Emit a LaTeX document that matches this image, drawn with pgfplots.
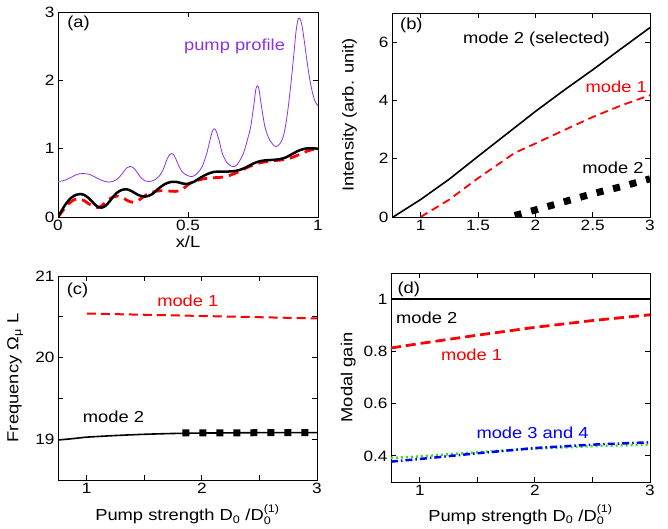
\documentclass[border=0pt]{standalone}
\usepackage{fontspec}
\setmainfont[FakeStretch=1.15]{Liberation Sans}
\usepackage{pgfplots}
\pgfplotsset{compat=1.18}

\definecolor{pumpc}{RGB}{140,50,230}
\definecolor{greenc}{RGB}{60,220,40}

\newcommand{\tk}{\fontsize{15}{15}\selectfont}
\newcommand{\lb}{\fontsize{16}{16}\selectfont}
\newcommand{\sm}{\fontsize{11}{11}\selectfont}

\pgfplotsset{
  panel/.style={
    scale only axis, anchor=south west,
    tick align=inside, major tick length=5bp,
    axis line style={line width=0.8bp},
    every tick/.style={line width=0.8bp, black},
    tick label style={font=\tk},
    /pgf/number format/assume math mode=true,
    every axis y label/.style={at={(axis description cs:-0.165,0.5)}, rotate=90, anchor=center, font=\lb},
  },
  xlab/.style={every axis x label/.style={at={(axis description cs:0.5,#1)}, anchor=base, font=\lb}},
  thickdash/.style={black, line width=7bp, dash pattern=on 7bp off 10bp},
}

\begin{document}
\begin{tikzpicture}
\useasboundingbox (0,0) rectangle (668bp,529bp);

% (a)
\begin{axis}[panel, at={(58bp,312bp)}, width=260bp, height=205bp,
  xmin=0, xmax=1, ymin=0, ymax=3,
  xtick={0,0.5,1}, ytick={0,1,2,3},
  xlabel={x/L}, xlab=-0.151]
\addplot[pumpc, line width=0.8bp, smooth] coordinates {
(0,0.52)(0.02,0.53)(0.04,0.56)(0.06,0.6)(0.08,0.63)(0.1,0.635)(0.12,0.625)(0.14,0.59)
(0.16,0.55)(0.18,0.52)(0.195,0.51)(0.21,0.52)(0.23,0.56)(0.25,0.65)(0.265,0.72)(0.277,0.74)
(0.29,0.72)(0.305,0.65)(0.32,0.57)(0.335,0.53)(0.352,0.52)(0.37,0.54)(0.39,0.6)(0.405,0.7)
(0.42,0.85)(0.43,0.915)(0.437,0.93)(0.444,0.915)(0.452,0.86)(0.467,0.73)(0.48,0.65)(0.497,0.61)(0.514,0.59)
(0.53,0.62)(0.545,0.68)(0.555,0.74)(0.572,0.93)(0.585,1.13)(0.594,1.26)(0.601,1.29)(0.608,1.26)
(0.619,1.13)(0.632,0.93)(0.649,0.8)(0.66,0.76)(0.674,0.737)(0.69,0.77)(0.713,0.93)(0.73,1.15)
(0.741,1.32)(0.754,1.66)(0.761,1.87)(0.767,1.92)(0.773,1.87)(0.781,1.66)(0.796,1.32)(0.815,1.12)
(0.838,1.03)(0.855,1.08)(0.868,1.2)(0.88,1.45)(0.893,1.85)(0.905,2.3)(0.915,2.7)(0.922,2.87)
(0.928,2.91)(0.934,2.87)(0.942,2.72)(0.957,2.3)(0.969,2.0)(0.98,1.8)(0.99,1.68)(1,1.63)};
\addplot[red, line width=2.8bp, dash pattern=on 10bp off 6bp, smooth] coordinates {
(0,0)(0.02,0.1)(0.04,0.19)(0.06,0.25)(0.08,0.265)(0.1,0.24)(0.12,0.19)(0.14,0.15)
(0.155,0.14)(0.17,0.17)(0.19,0.24)(0.21,0.29)(0.23,0.305)(0.25,0.28)(0.27,0.235)(0.29,0.215)
(0.31,0.245)(0.33,0.3)(0.35,0.345)(0.375,0.375)(0.4,0.385)(0.425,0.38)(0.45,0.375)(0.47,0.39)
(0.49,0.44)(0.51,0.5)(0.54,0.54)(0.57,0.565)(0.6,0.575)(0.625,0.58)(0.65,0.595)(0.675,0.63)
(0.7,0.67)(0.725,0.72)(0.75,0.76)(0.775,0.79)(0.8,0.81)(0.825,0.825)(0.85,0.83)(0.875,0.845)
(0.9,0.87)(0.925,0.91)(0.95,0.95)(0.975,0.985)(1,1.0)};
\addplot[black, line width=2.5bp, smooth] coordinates {
(0,0)(0.015,0.1)(0.03,0.19)(0.05,0.28)(0.07,0.325)(0.085,0.337)(0.1,0.325)(0.12,0.27)
(0.14,0.19)(0.155,0.145)(0.168,0.136)(0.185,0.17)(0.205,0.26)(0.225,0.35)(0.245,0.395)
(0.265,0.405)(0.285,0.375)(0.31,0.32)(0.335,0.298)(0.36,0.33)(0.385,0.41)(0.41,0.48)
(0.437,0.515)(0.46,0.51)(0.48,0.49)(0.5,0.485)(0.525,0.52)(0.55,0.58)(0.575,0.63)(0.6,0.66)
(0.625,0.665)(0.65,0.665)(0.675,0.67)(0.7,0.69)(0.725,0.73)(0.75,0.78)(0.775,0.815)(0.8,0.83)
(0.825,0.835)(0.85,0.845)(0.875,0.87)(0.9,0.92)(0.925,0.97)(0.95,1.0)(0.975,1.005)(1,1.0)};
\node[font=\lb] at (axis cs:0.079,2.83) {(a)};
\node[font=\lb, text=pumpc] at (axis cs:0.679,2.5) {pump profile};
\end{axis}

% (b)
\begin{axis}[panel, at={(392bp,312bp)}, width=258bp, height=204bp,
  xmin=0.75, xmax=3, ymin=0, ymax=7,
  xtick={1,1.5,2,2.5,3}, ytick={0,2,4,6},
  ylabel={Intensity (arb. unit)}]
\addplot[black, line width=1.6bp] coordinates {
(0.76,0)(1,0.6)(1.25,1.3)(1.5,2.08)(1.75,2.85)(2,3.62)(2.25,4.35)(2.5,5.05)(2.75,5.78)(3,6.5)};
\addplot[red, line width=1.8bp, dash pattern=on 8bp off 5bp] coordinates {
(1,0)(1.25,0.6)(1.5,1.33)(1.82,2.2)(2,2.52)(2.25,2.98)(2.5,3.43)(2.75,3.83)(3,4.18)};
\addplot[thickdash] coordinates {
(1.82,0.05)(2,0.24)(2.25,0.52)(2.5,0.8)(2.75,1.04)(3,1.31)};
\node[font=\lb] at (axis cs:0.919,6.59) {(b)};
\node[font=\lb] at (axis cs:2.009,6.1) {mode 2 (selected)};
\node[font=\lb, text=red] at (axis cs:2.706,4.46) {mode 1};
\node[font=\lb] at (axis cs:2.677,1.68) {mode 2};
\end{axis}

% (c)
\begin{axis}[panel, at={(58bp,49bp)}, width=259bp, height=204bp,
  xmin=0.75, xmax=3, ymin=18.5, ymax=21,
  xtick={1,1.5,2,2.5,3}, xticklabels={1,,2,,3},
  ytick={19,19.5,20,20.5,21}, yticklabels={19,,20,,21},
  ylabel={Frequency Ω$_{\mbox{\sm μ}}$ L},
  xlabel={Pump strength D$_{\mbox{\sm 0}}$ /D$_{\mbox{\sm 0}}^{\mbox{\sm (1)}}$},
  xlab=-0.2]
\addplot[red, line width=2bp, dash pattern=on 9bp off 5bp] coordinates {
(1,20.54)(1.5,20.525)(2,20.51)(2.5,20.495)(3,20.48)};
\addplot[black, line width=1.6bp, smooth] coordinates {
(0.75,18.99)(0.9,19.01)(1,19.025)(1.25,19.045)(1.5,19.06)(1.75,19.07)(2,19.075)(2.5,19.08)(3,19.08)};
\addplot[thickdash] coordinates {(1.83,19.078)(3,19.08)};
\node[font=\lb] at (axis cs:0.919,20.82) {(c)};
\node[font=\lb, text=red] at (axis cs:1.878,20.7) {mode 1};
\node[font=\lb] at (axis cs:1.232,19.28) {mode 2};
\end{axis}

% (d)
\begin{axis}[panel, at={(391bp,47bp)}, width=259bp, height=209bp,
  xmin=0.75, xmax=3, ymin=0.3, ymax=1.1,
  xtick={1,1.5,2,2.5,3}, xticklabels={1,,2,,3},
  ytick={0.4,0.6,0.8,1},
  ylabel={Modal gain},
  xlabel={Pump strength D$_{\mbox{\sm 0}}$ /D$_{\mbox{\sm 0}}^{\mbox{\sm (1)}}$},
  xlab=-0.187]
\addplot[black, line width=1.6bp] coordinates {(0.75,1)(3,1)};
\addplot[red, line width=2.8bp, dash pattern=on 10bp off 5bp] coordinates {
(0.75,0.813)(1,0.83)(1.5,0.862)(2,0.892)(2.5,0.918)(3,0.94)};
\addplot[greenc, line width=2.5bp, dash pattern=on 2bp off 3bp] coordinates {
(0.75,0.392)(1,0.398)(1.5,0.414)(2,0.428)(2.5,0.437)(3,0.443)};
\addplot[blue, line width=2.5bp, dash pattern=on 7bp off 3bp on 1.5bp off 3bp] coordinates {
(0.75,0.378)(1,0.388)(1.5,0.41)(2,0.43)(2.5,0.443)(3,0.452)};
\node[font=\lb] at (axis cs:0.904,1.039) {(d)};
\node[font=\lb] at (axis cs:1.06,0.93) {mode 2};
\node[font=\lb, text=red] at (axis cs:1.45,0.785) {mode 1};
\node[font=\lb, text=blue] at (axis cs:1.98,0.489) {mode 3 and 4};
\end{axis}
\end{tikzpicture}
\end{document}
